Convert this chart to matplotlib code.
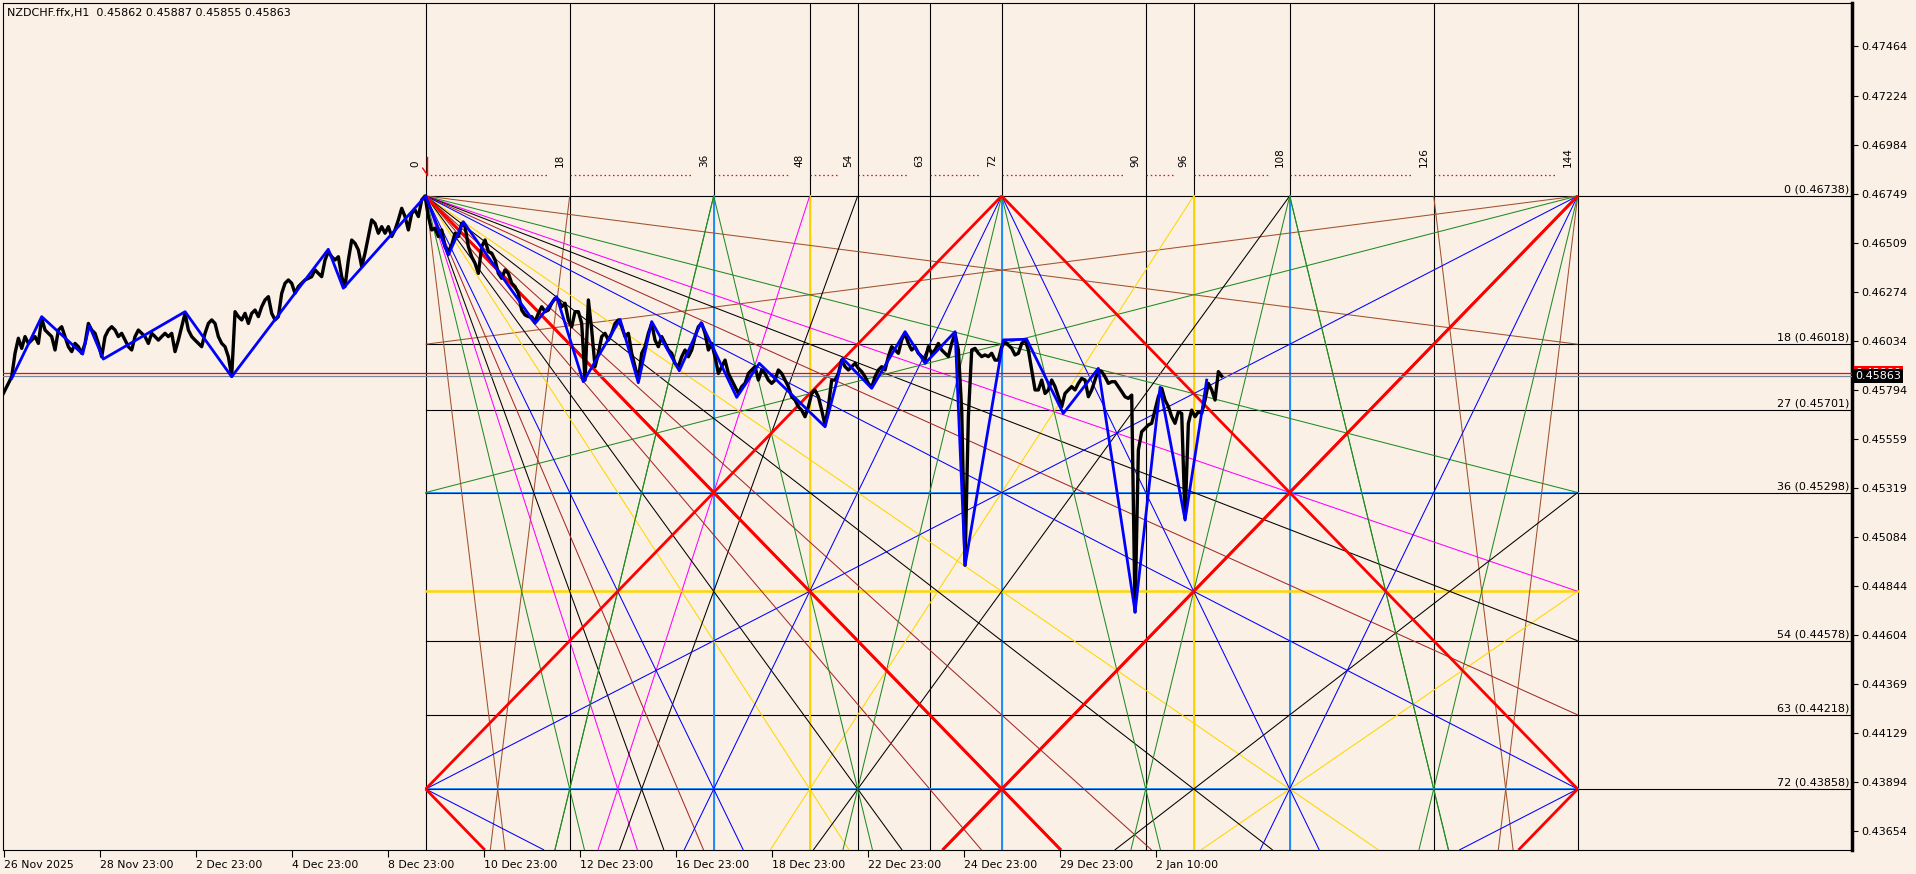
import numpy as np
import matplotlib
matplotlib.use('Agg')
import matplotlib.pyplot as plt
from matplotlib.transforms import blended_transform_factory

BG = '#FAF0E6'

header = 'NZDCHF.ffx,H1  0.45862 0.45887 0.45855 0.45863'

# H1 closes, one value every 5/3 bar from the left edge
close_start = -1.0
close_step = 5 / 3
closes = [
    0.45763, 0.45795, 0.45828, 0.45860, 0.45974, 0.46047, 0.45998, 0.46055, 0.46022, 0.46038,
    0.46055, 0.46022, 0.46144, 0.46087, 0.46071, 0.46055, 0.45990, 0.46087, 0.46103, 0.46055,
    0.46006, 0.45982, 0.46022, 0.46006, 0.45974, 0.46022, 0.46119, 0.46087, 0.46071, 0.46022,
    0.45957, 0.46055, 0.46087, 0.46103, 0.46087, 0.46055, 0.46071, 0.46038, 0.46006, 0.45990,
    0.46055, 0.46087, 0.46071, 0.46055, 0.46022, 0.46071, 0.46055, 0.46038, 0.46055, 0.46071,
    0.46055, 0.46071, 0.45982, 0.46038, 0.46103, 0.46168, 0.46087, 0.46055, 0.46038, 0.46022,
    0.46006, 0.46071, 0.46119, 0.46136, 0.46119, 0.46055, 0.46022, 0.46006, 0.45957, 0.45863,
    0.46176, 0.46152, 0.46136, 0.46168, 0.46119, 0.46168, 0.46184, 0.46152, 0.46200, 0.46233,
    0.46249, 0.46168, 0.46136, 0.46152, 0.46265, 0.46314, 0.46330, 0.46314, 0.46265, 0.46298,
    0.46314, 0.46330, 0.46338, 0.46346, 0.46379, 0.46362, 0.46346, 0.46427, 0.46468, 0.46443,
    0.46427, 0.46443, 0.46346, 0.46298, 0.46427, 0.46524, 0.46508, 0.46476, 0.46395, 0.46460,
    0.46541, 0.46622, 0.46605, 0.46557, 0.46589, 0.46557, 0.46589, 0.46541, 0.46573, 0.46622,
    0.46678, 0.46638, 0.46573, 0.46654, 0.46670, 0.46638, 0.46719, 0.46738,
    0.46638, 0.46573, 0.46581, 0.46541, 0.46573, 0.46492, 0.46468, 0.46500, 0.46557, 0.46541,
    0.46605, 0.46589, 0.46492, 0.46443, 0.46411, 0.46362, 0.46492, 0.46524, 0.46468, 0.46460,
    0.46427, 0.46362, 0.46338, 0.46379, 0.46362, 0.46314, 0.46298, 0.46265, 0.46184, 0.46160,
    0.46152, 0.46152, 0.46128, 0.46168, 0.46200, 0.46176, 0.46184, 0.46217, 0.46241, 0.46233,
    0.46200, 0.46217, 0.46136, 0.46103, 0.46176, 0.46176, 0.46119, 0.45844, 0.46233, 0.46087,
    0.45909, 0.45974, 0.46055, 0.46071, 0.46038, 0.46071, 0.46119, 0.46136, 0.46103, 0.46055,
    0.46071, 0.45974, 0.45909, 0.45844, 0.45974, 0.46006, 0.46071, 0.46119, 0.46038, 0.46006,
    0.46055, 0.46022, 0.45990, 0.45974, 0.45925, 0.45909, 0.45957, 0.45990, 0.45957, 0.45990,
    0.46055, 0.46103, 0.46119, 0.46071, 0.45990, 0.46022, 0.45957, 0.45876, 0.45909, 0.45941,
    0.45876, 0.45844, 0.45812, 0.45779, 0.45812, 0.45828, 0.45876, 0.45893, 0.45909, 0.45844,
    0.45893, 0.45876, 0.45844, 0.45828, 0.45844, 0.45893, 0.45876, 0.45844, 0.45812, 0.45763,
    0.45747, 0.45714, 0.45698, 0.45666, 0.45714, 0.45779, 0.45795, 0.45763, 0.45698, 0.45625,
    0.45714, 0.45844, 0.45844, 0.45876, 0.45941, 0.45909, 0.45893, 0.45909, 0.45925,
    0.45901, 0.45885, 0.45860, 0.45828, 0.45809, 0.45860, 0.45893, 0.45909, 0.45893, 0.45958,
    0.46006, 0.45990, 0.45974, 0.46039, 0.46071, 0.46022, 0.45990, 0.46006, 0.45974, 0.45958,
    0.45941, 0.46006, 0.45974, 0.45990, 0.46022, 0.45990, 0.45974, 0.45958, 0.46022, 0.46071,
    0.45990, 0.45698, 0.44945, 0.45666, 0.45990, 0.45998, 0.45974, 0.45958, 0.45966, 0.45958,
    0.45974, 0.45941, 0.45941, 0.46006, 0.46031, 0.46014, 0.45998, 0.45966, 0.45974, 0.46022,
    0.46039, 0.45990, 0.45893, 0.45796, 0.45796, 0.45844, 0.45779, 0.45796, 0.45844, 0.45812,
    0.45763, 0.45715, 0.45779, 0.45796, 0.45812, 0.45796, 0.45828, 0.45852, 0.45844, 0.45763,
    0.45796, 0.45844, 0.45893, 0.45885, 0.45860, 0.45828, 0.45836, 0.45836, 0.45812, 0.45788,
    0.45763, 0.45755, 0.45771, 0.44718, 0.45504, 0.45593, 0.45609, 0.45626, 0.45634, 0.45698,
    0.45763, 0.45804, 0.45747, 0.45715, 0.45666, 0.45634, 0.45690, 0.45682, 0.45172, 0.45634,
    0.45698, 0.45666, 0.45690, 0.45682, 0.45747, 0.45828, 0.45796, 0.45747, 0.45885, 0.45863,
]

# zigzag pivots
zz_bar = [4.0, 19.0, 39.5, 42.8, 49.8, 90.7, 114.0, 162.3, 169.8, 211.0, 222.3, 229.8,
          265.7, 276.5, 289.8, 308.2, 317.3, 324.0, 337.8, 348.7, 366.5, 377.8, 410.7,
          419.5, 434.0, 450.7, 460.7, 475.7, 480.7, 499.8, 511.5, 529.8, 547.3, 565.7,
          578.2, 590.7, 601.5]
zz_price = [0.45852, 0.46152, 0.45970, 0.46108, 0.45946, 0.46176, 0.45860, 0.46479, 0.46290,
            0.46738, 0.46451, 0.46613, 0.46119, 0.46249, 0.45836, 0.46139, 0.45831, 0.46128,
            0.45889, 0.46123, 0.45760, 0.45925, 0.45617, 0.45949, 0.45804, 0.46079, 0.45925,
            0.46079, 0.44945, 0.46039, 0.46042, 0.45682, 0.45901, 0.44718, 0.45809, 0.45164,
            0.45844]

bid_price = 0.45863
ask_price = 0.45880

date_bars = [0, 48, 96, 144, 192, 240, 288, 336, 384, 432, 480, 528, 576]
date_labels = ['26 Nov 2025', '28 Nov 23:00', '2 Dec 23:00', '4 Dec 23:00', '8 Dec 23:00',
               '10 Dec 23:00', '12 Dec 23:00', '16 Dec 23:00', '18 Dec 23:00', '22 Dec 23:00',
               '24 Dec 23:00', '29 Dec 23:00', '2 Jan 10:00']
price_ticks = [0.47464, 0.47224, 0.46984, 0.46749, 0.46509, 0.46274, 0.46034, 0.45794,
               0.45559, 0.45319, 0.45084, 0.44844, 0.44604, 0.44369, 0.44129, 0.43894, 0.43654]

# Gann square
gann_bar0 = 211
bars_per_step = 4
gann_price0 = 0.46738
price_per_step = 0.0004
box_w = 144
box_h = 72
gann_times = [0, 18, 36, 48, 54, 63, 72, 90, 96, 108, 126, 144]
level_names = ['0', '18', '27', '36', '54', '63', '72']
level_prices = [0.46738, 0.46018, 0.45701, 0.45298, 0.44578, 0.44218, 0.43858]
blue_levels = [0.45298, 0.43858]
yellow_level = 48
blue_times = [36, 72, 108]
yellow_times = [48, 96]

brown, green, mag, gold, dred = '#A0522D', '#228B22', '#FF00FF', '#FFD700', '#A52A2A'
fan_slopes = [8, 1/8, 4, 1/4, 3, 1/3, 3/2, 2/3, 8/3, 3/8, 4/3, 3/4,
              16/7, 7/16, 8/7, 7/8, 2, 1/2, 1]
fan_colors = [brown, brown, green, green, mag, mag, gold, gold, 'black', 'black', 'black',
              'black', dred, dred, dred, dred, 'blue', 'blue', 'red']
# angles also fanned out from the top right corner
fan_right = [True, True, True, True, False, False, False, False, False, False, False,
             False, False, False, False, False, True, True, True]
# angles that come back up where they meet the bottom of the square
fan_bounce = [True, True, True, True, True, True, True, True, True, True, True,
              True, False, False, False, False, True, True, True]
green_tops = [36, 72, 108]
red_extra = [(72, 1), (72, -1), (-72, 1), (216, -1)]

x_lo, x_hi = -0.35, 924.15
y_lo, y_hi = 0.43562, 0.47675


def to_bar(u):
    return gann_bar0 + bars_per_step * np.asarray(u, dtype=float)


def to_price(lv):
    return gann_price0 - price_per_step * np.asarray(lv, dtype=float)


L_bot = (gann_price0 - y_lo) / price_per_step


def gann_line(ax, u0, m, color, lw, z):
    lo, hi = sorted([(0 - u0) * m, (box_w - u0) * m])
    lo, hi = max(lo, 0.0), min(hi, L_bot)
    if hi <= lo:
        return
    lv = np.array([lo, hi])
    u = u0 + lv / m
    ax.plot(to_bar(u), to_price(lv), color=color, lw=lw, zorder=z,
            solid_capstyle='butt')


fig = plt.figure(figsize=(19.16, 8.74), dpi=100, facecolor=BG)
ax = fig.add_axes([3 / 1916, 24 / 874, 1849 / 1916, 847 / 874])
ax.set_facecolor(BG)
ax.set_xlim(x_lo, x_hi)
ax.set_ylim(y_lo, y_hi)
bx = blended_transform_factory(ax.transData, ax.transAxes)
by = blended_transform_factory(ax.transAxes, ax.transData)

# grid of the square
for t in gann_times:
    ax.axvline(to_bar(t), color='black', lw=0.8, zorder=1.5)
for t in blue_times:
    ax.plot([to_bar(t)] * 2, [gann_price0, y_lo], color='#1E90FF', lw=1.4, zorder=1.6)
for t in yellow_times:
    ax.plot([to_bar(t)] * 2, [gann_price0, y_lo], color=gold, lw=1.4, zorder=1.6)
for p in level_prices:
    ax.plot([to_bar(0), x_hi], [p, p], color='black', lw=0.8, zorder=1.5)
for p in blue_levels:
    ax.plot([to_bar(0), to_bar(box_w)], [p, p], color='#1E90FF', lw=1.4, zorder=1.6)
    ax.plot([to_bar(0), to_bar(box_w)], [p, p], color='black', lw=0.5, zorder=1.65)
ax.plot([to_bar(0), to_bar(box_w)], [to_price(yellow_level)] * 2, color=gold, lw=1.8,
        zorder=1.6)

# fan lines from the top corners and where they bounce off the bottom
lines = []
for m, c, right, bounce in zip(fan_slopes, fan_colors, fan_right, fan_bounce):
    hit = box_h / m
    bounce = bounce and hit <= box_w
    lines.append((0, m, c))
    if bounce:
        lines.append((2 * hit, -m, c))
    if right:
        lines.append((box_w, -m, c))
        if bounce:
            lines.append((box_w - 2 * hit, m, c))
for v in green_tops:
    lines.append((v, 4, green))
    lines.append((v, -4, green))
for u0, m in red_extra:
    lines.append((u0, m, 'red'))
for u0, m, c in lines:
    if c == 'red':
        gann_line(ax, u0, m, c, 2.0, 3)
    else:
        gann_line(ax, u0, m, c, 0.75, 2)

# price and zigzag
bars = close_start + close_step * np.arange(len(closes))
ax.plot(bars, closes, color='black', lw=2.4, zorder=4)
ax.plot(zz_bar, zz_price, color='blue', lw=2.0, zorder=5)

ax.axhline(ask_price, color='red', lw=0.9, zorder=3.5)
ax.axhline(bid_price, color='#778899', lw=0.9, zorder=3.5)

# labels of the square
for t in gann_times:
    ax.text(to_bar(t) - 5, 0.806, str(t), rotation=90, ha='center', va='bottom',
            fontsize=7.5, transform=bx)
for a, b in zip(gann_times[:-1], gann_times[1:]):
    ax.plot([to_bar(a), to_bar(b) - 10.5], [0.797, 0.797], transform=bx, color='red',
            lw=0.9, ls=(0, (1.2, 2.2)))
ax.plot([gann_bar0 + 0.8] * 2, [0.818, 0.797], transform=bx, color='red', lw=1)
ax.plot([gann_bar0 - 1.5, gann_bar0 + 0.8], [0.805, 0.797], transform=bx, color='red', lw=1)

for name, p in zip(level_names, level_prices):
    ax.annotate(f'{name} ({p:.5f})', xy=(0.9984, p), xycoords=by, xytext=(0, 1),
                textcoords='offset points', ha='right', va='bottom', fontsize=8)

ax.text(0.0022, 0.988, header, transform=ax.transAxes, fontsize=8, va='center')

# axes
for s in ax.spines.values():
    s.set_color('black')
    s.set_linewidth(0.8)
ax.spines['right'].set_linewidth(2.5)
ax.yaxis.tick_right()
ax.set_yticks(price_ticks)
ax.set_yticklabels([f'{p:.5f}' for p in price_ticks])
ax.tick_params(axis='y', length=4, width=0.8, pad=3, labelsize=8)
ax.set_xticks(date_bars)
ax.set_xticklabels(date_labels, ha='left')
ax.tick_params(axis='x', length=5, width=0.8, pad=2, labelsize=7.8)

ax.annotate(f'{ask_price:.5f}', xy=(1.0, ask_price), xycoords=by, xytext=(2.5, 0),
            textcoords='offset points', ha='left', va='center', fontsize=8, color='white',
            bbox=dict(boxstyle='square,pad=0.15', fc='red', ec='none'), annotation_clip=False)
ax.annotate(f'{bid_price:.5f}', xy=(1.0, bid_price), xycoords=by, xytext=(2.5, 0),
            textcoords='offset points', ha='left', va='center', fontsize=8, color='white',
            bbox=dict(boxstyle='square,pad=0.15', fc='black', ec='none'), annotation_clip=False)

fig.savefig('out.png', dpi=100, facecolor=BG)
